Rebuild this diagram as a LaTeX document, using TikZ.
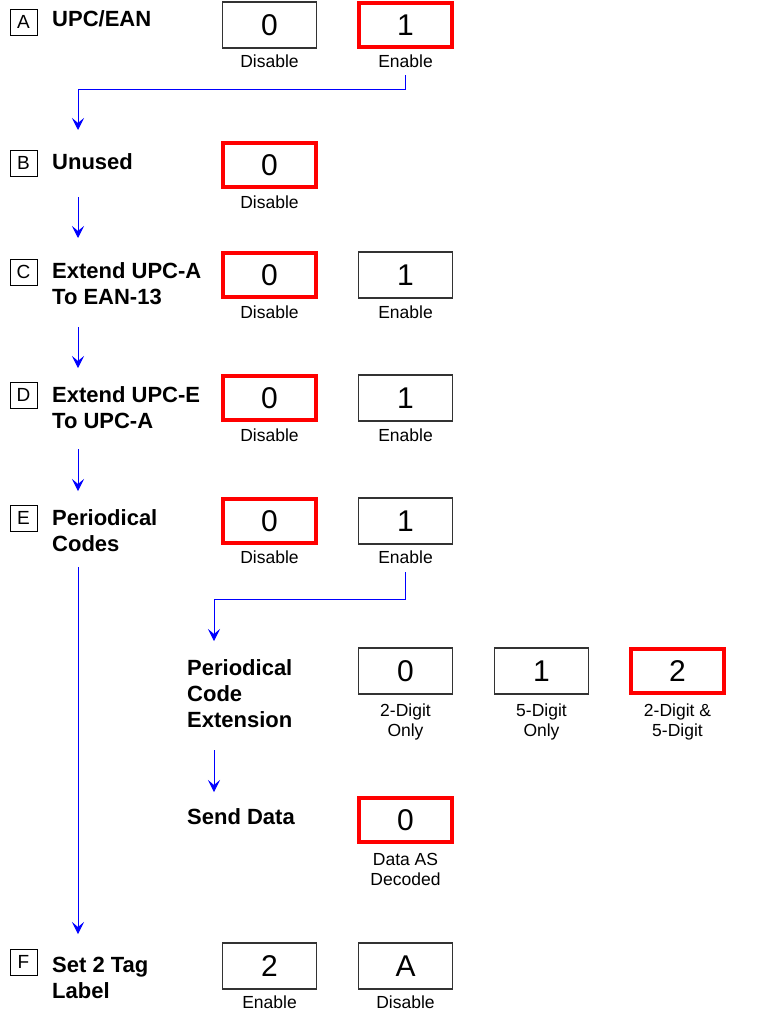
\documentclass[tikz,border=0pt]{standalone}
\usepackage{fontspec}
\setmainfont{Liberation Sans}
\usetikzlibrary{arrows.meta}
\definecolor{cflow}{HTML}{0000ff}
\definecolor{csel}{HTML}{ff0000}
\definecolor{cbox}{HTML}{333333}

\begin{document}
\begin{tikzpicture}[x=1pt, y=-1pt, line cap=butt,
    keybox/.style={draw=black, line width=0.8pt, inner sep=0pt,
      minimum width=27pt, minimum height=26pt, font=\fontsize{19}{22}\selectfont},
    title/.style={anchor=base west, inner sep=0pt, align=left,
      font=\fontsize{22}{26}\selectfont\bfseries},
    optbox/.style={draw=cbox, line width=1.2pt, inner sep=0pt,
      minimum width=94pt, minimum height=46pt, font=\fontsize{30}{36}\selectfont},
    optsel/.style={optbox, draw=csel, line width=4pt,
      minimum width=93pt, minimum height=44pt},
    optlab/.style={anchor=base, inner sep=0pt, align=center,
      font=\fontsize{17.5}{20}\selectfont},
    flow/.style={cflow, line width=0.9pt,
      -{Stealth[length=12pt, width=12pt, inset=5pt]}}]
  \useasboundingbox (0,0) rectangle (761,1014);
  \def\ca{269.5} \def\cb{405.5} \def\cc{541.5} \def\cd{677.5}
  % (multi-line texts sit on the baseline of their last line)
  % A: UPC/EAN
  \node[keybox] (kA) at (23.5,22) {A};
  \node[title] (tA) at (52,27) {UPC/EAN};
  \node[optbox] (a0) at (\ca,25) {0};
  \node[optsel] (a1) at (\cb,25) {1};
  \node[optlab] (a0l) at (\ca,68) {Disable};
  \node[optlab] (a1l) at (\cb,68) {Enable};
  % B: Unused
  \node[keybox] (kB) at (23.5,163) {B};
  \node[title] (tB) at (52,169) {Unused};
  \node[optsel] (b0) at (\ca,165) {0};
  \node[optlab] (b0l) at (\ca,208) {Disable};
  % C: Extend UPC-A
  \node[keybox] (kC) at (23.5,272) {C};
  \node[title] (tC) at (52,304) {Extend UPC-A\\To EAN-13};
  \node[optsel] (c0) at (\ca,275) {0};
  \node[optbox] (c1) at (\cb,275) {1};
  \node[optlab] (c0l) at (\ca,318) {Disable};
  \node[optlab] (c1l) at (\cb,318) {Enable};
  % D: Extend UPC-E
  \node[keybox] (kD) at (23.5,395) {D};
  \node[title] (tD) at (52,428) {Extend UPC-E\\To UPC-A};
  \node[optsel] (d0) at (\ca,398) {0};
  \node[optbox] (d1) at (\cb,398) {1};
  \node[optlab] (d0l) at (\ca,441) {Disable};
  \node[optlab] (d1l) at (\cb,441) {Enable};
  % E: Periodical Codes
  \node[keybox] (kE) at (23.5,518) {E};
  \node[title] (tE) at (52,551) {Periodical\\Codes};
  \node[optsel] (e0) at (\ca,521) {0};
  \node[optbox] (e1) at (\cb,521) {1};
  \node[optlab] (e0l) at (\ca,563) {Disable};
  \node[optlab] (e1l) at (\cb,563) {Enable};
  % periodical code extension
  \node[title] (tX) at (187,727) {Periodical\\Code\\Extension};
  \node[optbox] (x0) at (\cb,671) {0};
  \node[optbox] (x1) at (\cc,671) {1};
  \node[optsel] (x2) at (\cd,671) {2};
  \node[optlab] (x0l) at (\cb,736) {2-Digit\\Only};
  \node[optlab] (x1l) at (\cc,736) {5-Digit\\Only};
  \node[optlab] (x2l) at (\cd,736) {2-Digit \&\\5-Digit};
  % send data
  \node[title] (tS) at (187,824) {Send Data};
  \node[optsel] (s0) at (\cb,820) {0};
  \node[optlab] (s0l) at (\cb,885) {Data AS\\Decoded};
  % F: Set 2 Tag Label
  \node[keybox] (kF) at (23.5,962) {F};
  \node[title] (tF) at (52,998) {Set 2 Tag\\Label};
  \node[optbox] (f2) at (\ca,966) {2};
  \node[optbox] (fA) at (\cb,966) {A};
  \node[optlab] (f2l) at (\ca,1008) {Enable};
  \node[optlab] (fAl) at (\cb,1008) {Disable};
  % flow
  \coordinate (inB) at (78,130);
  \coordinate (outB) at (78,197);  \coordinate (inC) at (78,238);
  \coordinate (outC) at (78,327);  \coordinate (inD) at (78,368);
  \coordinate (outD) at (78,449);  \coordinate (inE) at (78,491);
  \coordinate (outE) at (78,567);  \coordinate (inF) at (78,934);
  \coordinate (inX) at (214,641);
  \coordinate (outX) at (214,750); \coordinate (inS) at (214,792);
  \draw[flow] ([yshift=-7pt]a1l.south) -- ++(0,14) -| (inB);
  \draw[flow] (outB) -- (inC);
  \draw[flow] (outC) -- (inD);
  \draw[flow] (outD) -- (inE);
  \draw[flow] (outE) -- (inF);
  \draw[flow] ([yshift=-9pt]e1l.south) -- ++(0,27) -| (inX);
  \draw[flow] (outX) -- (inS);
\end{tikzpicture}
\end{document}
